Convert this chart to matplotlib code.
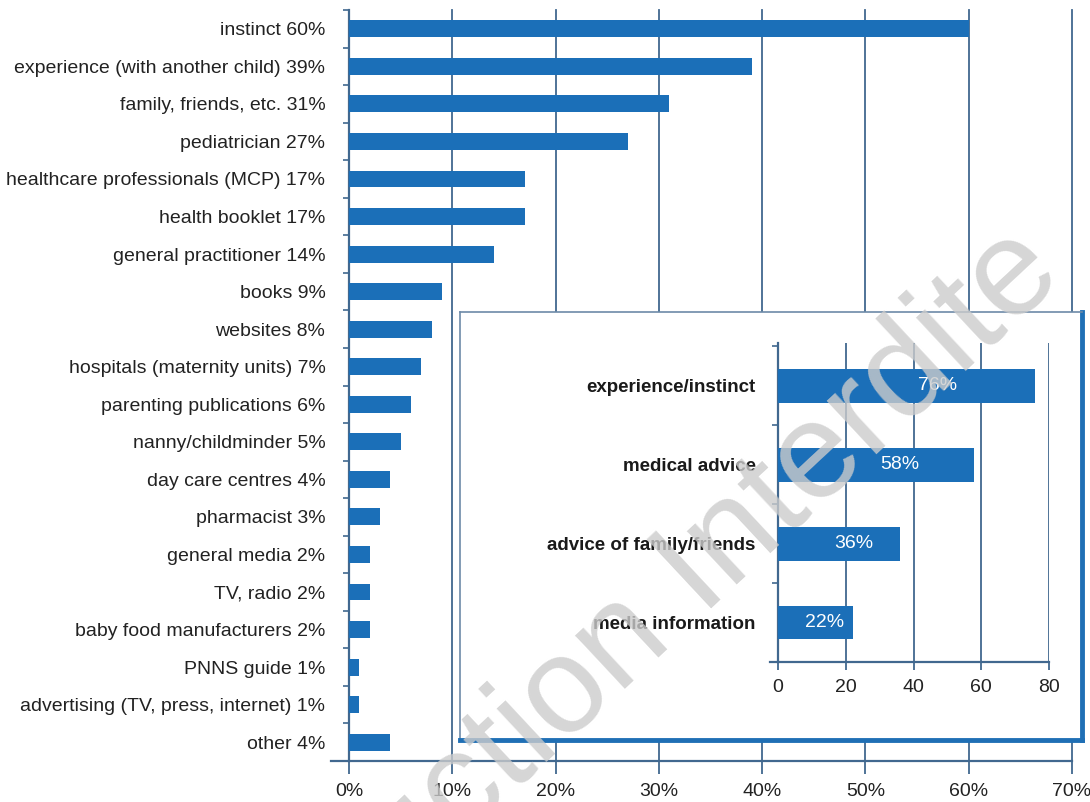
import numpy as np
import matplotlib
matplotlib.use('Agg')
import matplotlib.pyplot as plt

plt.rcParams['font.family'] = ['Liberation Sans', 'DejaVu Sans']

# Sources d'information (du haut vers le bas)
sources = ['instinct', 'experience (with another child)', 'family, friends, etc.',
           'pediatrician', 'healthcare professionals (MCP)', 'health booklet',
           'general practitioner', 'books', 'websites', 'hospitals (maternity units)',
           'parenting publications', 'nanny/childminder', 'day care centres',
           'pharmacist', 'general media', 'TV, radio', 'baby food manufacturers',
           'PNNS guide', 'advertising (TV, press, internet)', 'other']
shares = [60, 39, 31, 27, 17, 17, 14, 9, 8, 7, 6, 5, 4, 3, 2, 2, 2, 1, 1, 4]
main_ticks = [0, 10, 20, 30, 40, 50, 60, 70]

# Regroupement en 4 familles
groups = ['experience/instinct', 'medical advice', 'advice of family/friends',
          'media information']
group_shares = [76, 58, 36, 22]
inset_ticks = [0, 20, 40, 60, 80]

blue = '#1b6fb8'
slate = '#41688f'
txt = '#222222'

W, H = 1090, 802
fig = plt.figure(figsize=(W / 100, H / 100), dpi=100)
fig.patch.set_facecolor('white')

# --- graphique principal ---
ax = fig.add_axes([349 / W, 1 - 761 / H, (1072 - 349) / W, (761 - 10) / H])
y = np.arange(len(sources))
ax.barh(y, shares, height=0.45, color=blue, zorder=3)
ax.set_xlim(main_ticks[0], main_ticks[-1])
ax.set_ylim(len(sources) - 0.5, -0.5)

ax.set_yticks(y)
ax.set_yticklabels([f'{s} {v}%' for s, v in zip(sources, shares)],
                   fontsize=14, color=txt)
ax.set_yticks(np.arange(-0.5, len(sources), 1), minor=True)
ax.tick_params(axis='y', which='major', length=0, pad=17)
ax.tick_params(axis='y', which='minor', length=4, width=1.2, color=slate)

ax.set_xticks(main_ticks)
ax.set_xticklabels([f'{t}%' for t in main_ticks], fontsize=14, color=txt)
ax.tick_params(axis='x', length=9.5, width=1.3, color=slate, pad=6)

ax.grid(axis='x', color=slate, lw=1.3, zorder=1)
ax.set_axisbelow(True)
for gl in ax.get_xgridlines():
    gl.set_clip_on(False)
for side in ['top', 'right']:
    ax.spines[side].set_visible(False)
for side in ['left', 'bottom']:
    ax.spines[side].set_color(slate)
    ax.spines[side].set_linewidth(1.6)
ax.plot([-0.025, 0], [0, 0], transform=ax.transAxes, color=slate, lw=1.6,
        clip_on=False)

# --- cadre de l'encart ---
frame = fig.add_axes([460 / W, 1 - 740 / H, (1082 - 460) / W, (740 - 312) / H])
frame.set_facecolor('white')
frame.set_xticks([])
frame.set_yticks([])
for side in ['left', 'top']:
    frame.spines[side].set_color('#6d8aa8')
    frame.spines[side].set_linewidth(1.2)
for side in ['bottom', 'right']:
    frame.spines[side].set_color('#1f6fb5')
    frame.spines[side].set_linewidth(3.5)

# --- encart ---
ax2 = fig.add_axes([778 / W, 1 - 662 / H, (1049 - 778) / W, (662 - 343) / H])
ax2.set_facecolor('none')
yi = np.arange(len(groups))
ax2.barh(yi, group_shares, height=0.43, color=blue, zorder=3)
for yy, v in zip(yi, group_shares):
    ax2.text(v * 0.62, yy, f'{v}%', color='white', fontsize=14,
             ha='center', va='center', zorder=4)
ax2.set_xlim(inset_ticks[0], inset_ticks[-1])
ax2.set_ylim(len(groups) - 0.54, -0.54)

ax2.set_yticks(yi)
ax2.set_yticklabels(groups, fontsize=13.5, fontweight='bold', color='#1a1a1a')
ax2.set_yticks(np.arange(-0.5, len(groups), 1), minor=True)
ax2.tick_params(axis='y', which='major', length=0, pad=16)
ax2.tick_params(axis='y', which='minor', length=4, width=1.2, color=slate)

ax2.set_xticks(inset_ticks)
ax2.set_xticklabels([str(t) for t in inset_ticks], fontsize=14, color=txt)
ax2.tick_params(axis='x', length=6, width=1.3, color=slate, pad=6)

ax2.grid(axis='x', color=slate, lw=1.3, zorder=1)
ax2.set_axisbelow(True)
for side in ['top', 'right']:
    ax2.spines[side].set_visible(False)
for side in ['left', 'bottom']:
    ax2.spines[side].set_color(slate)
    ax2.spines[side].set_linewidth(1.6)
ax2.plot([-0.03, 0], [0, 0], transform=ax2.transAxes, color=slate, lw=1.6,
         clip_on=False)

# filigrane
fig.text(1066 / W, 1 - 278 / H, 'Reproduction Interdite', rotation=43,
         rotation_mode='anchor', ha='right', va='baseline', fontsize=99,
         color='0.8', alpha=0.8, zorder=10)

fig.savefig('out.png', dpi=100)
